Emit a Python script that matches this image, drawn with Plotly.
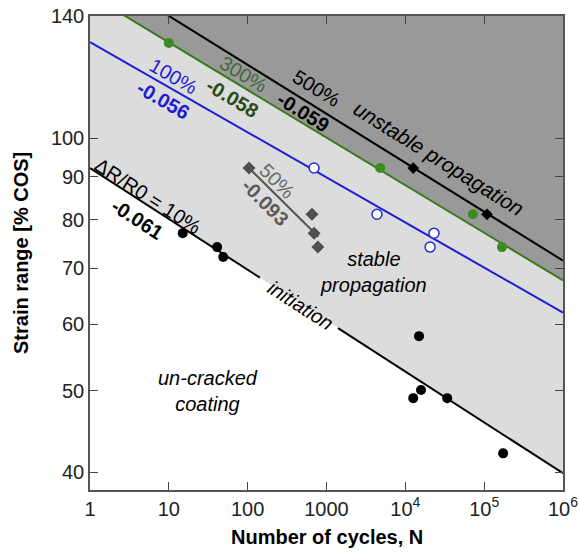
import numpy as np
import plotly.graph_objects as go

# ---------------- data ----------------
init_N = [15, 41, 49, 12600, 15800, 14900, 34000, 174000]
init_S = [77.1, 74.2, 72.2, 49.0, 50.1, 58.1, 49.0, 42.1]

p50_N = [104, 655, 695, 777]
p50_S = [92.2, 81.2, 77.1, 74.2]

p100_N = [695, 4370, 23100, 20600]
p100_S = [92.2, 81.2, 77.1, 74.2]

p300_N = [10, 4800, 72000, 168000]
p300_S = [130, 92.2, 81.2, 74.2]

p500_N = [12600, 108700]
p500_S = [92.2, 81.2]

# power-law fits S = A * N^b
fit_labels = ["10%", "50%", "100%", "300%", "500%"]
fit_A = [92.2, 142.0, 130.3, 148.4, 160.2]
fit_b = [-0.0607, -0.093, -0.0538, -0.0568, -0.0584]
fit_slope_text = ["-0.061", "-0.093", "-0.056", "-0.058", "-0.059"]

x_ticks = [1, 10, 100, 1000, 1e4, 1e5, 1e6]
x_ticktext = ["1", "10", "100", "1000", "10<sup>4</sup>", "10<sup>5</sup>", "10<sup>6</sup>"]
y_ticks = [40, 50, 60, 70, 80, 90, 100, 140]
y_ticktext = ["40", "50", "60", "70", "80", "90", "100", "140"]

FONT = "Liberation Sans, Arial, sans-serif"


def fit(i, N):
    N = np.asarray(N, dtype=float)
    return fit_A[i] * N ** fit_b[i]


fig = go.Figure()

TOP = 300
# light gray region above initiation line
fig.add_trace(go.Scatter(x=[1, 1e6, 1e6, 1], y=[fit(0, 1), fit(0, 1e6), TOP, TOP],
                         fill="toself", fillcolor="#dcdcdc", line=dict(width=0),
                         mode="lines", hoverinfo="skip", showlegend=False))
# dark gray region above 300% line
fig.add_trace(go.Scatter(x=[1, 1e6, 1e6, 1], y=[fit(3, 1), fit(3, 1e6), TOP, TOP],
                         fill="toself", fillcolor="#999999", line=dict(width=0),
                         mode="lines", hoverinfo="skip", showlegend=False))

# initiation line (with gap for the label)
for seg in ([1, 143], [1400, 1e6]):
    fig.add_trace(go.Scatter(x=seg, y=fit(0, seg), mode="lines",
                             line=dict(color="black", width=2), showlegend=False))
# 50% line
seg = [104, 790]
fig.add_trace(go.Scatter(x=seg, y=fit(1, seg), mode="lines",
                         line=dict(color="#555555", width=2), showlegend=False))
# 100% line
seg = [1, 1e6]
fig.add_trace(go.Scatter(x=seg, y=fit(2, seg), mode="lines",
                         line=dict(color="#1c1cd6", width=2), showlegend=False))
# 300% line
fig.add_trace(go.Scatter(x=seg, y=fit(3, seg), mode="lines",
                         line=dict(color="#3a7a1e", width=2), showlegend=False))
# 500% line
fig.add_trace(go.Scatter(x=seg, y=fit(4, seg), mode="lines",
                         line=dict(color="black", width=2), showlegend=False))

# markers
fig.add_trace(go.Scatter(x=init_N, y=init_S, mode="markers",
                         marker=dict(symbol="circle", size=10, color="black"), showlegend=False))
fig.add_trace(go.Scatter(x=p50_N, y=p50_S, mode="markers",
                         marker=dict(symbol="diamond", size=10, color="#505050"), showlegend=False))
fig.add_trace(go.Scatter(x=p100_N, y=p100_S, mode="markers",
                         marker=dict(symbol="circle", size=10, color="white",
                                     line=dict(color="#2a2ad8", width=1.5)), showlegend=False))
fig.add_trace(go.Scatter(x=p300_N, y=p300_S, mode="markers",
                         marker=dict(symbol="circle", size=10, color="#3c8a22"), showlegend=False))
fig.add_trace(go.Scatter(x=p500_N, y=p500_S, mode="markers",
                         marker=dict(symbol="diamond", size=9, color="black"), showlegend=False))

# ------------- annotations -------------
# plot-area edges in page pixels
L, R, T, B = 90, 563, 16, 490


def P(px, py):
    return (px - L) / (R - L), (B - py) / (B - T)


annos = []


def txt(text, px, py, angle=0, color="black", size=20, bold=False, italic=False):
    x, y = P(px, py)
    t = text
    if bold:
        t = "<b>" + t + "</b>"
    if italic:
        t = "<i>" + t + "</i>"
    annos.append(dict(text=t, x=x, y=y, xref="paper", yref="paper", showarrow=False,
                      xanchor="center", yanchor="middle", textangle=angle,
                      font=dict(family=FONT, size=size, color=color)))


txt("ΔR/R0 = " + fit_labels[0], 148, 196, 32.8)
txt(fit_slope_text[0], 137, 219, 32.8, bold=True)
txt("initiation", 300, 305, 32.8, italic=True)
txt(fit_labels[1], 277, 181, 45, color="#6a6a6a")
txt(fit_slope_text[1], 265, 202, 45, color="#5a5a5a", bold=True)
txt(fit_labels[2], 173, 76, 30, color="#1c1cd6")
txt(fit_slope_text[2], 163, 100, 30, color="#1c1cd6", bold=True)
txt(fit_labels[3], 243, 74, 31, color="#46683a")
txt(fit_slope_text[3], 232, 98, 31, color="#2a4a18", bold=True)
txt(fit_labels[4], 316, 88, 32)
txt(fit_slope_text[4], 303, 112, 32, bold=True)
txt("unstable propagation", 439, 158, 32, italic=True, size=21)
txt("stable<br>propagation", 373, 272, 0, italic=True)
txt("un-cracked<br>coating", 208, 391, 0, italic=True)

# axis titles
ax_x, ax_y = P(327, 537)
annos.append(dict(text="<b>Number of cycles, N</b>", x=ax_x, y=ax_y,
                  xref="paper", yref="paper", showarrow=False, xanchor="center", yanchor="middle",
                  font=dict(family=FONT, size=20, color="black")))
ay_x, ay_y = P(21, 253)
annos.append(dict(text="<b>Strain range [% COS]</b>", x=ay_x, y=ay_y,
                  xref="paper", yref="paper", showarrow=False, xanchor="center", yanchor="middle",
                  textangle=-90, font=dict(family=FONT, size=20, color="black")))

W, H = 579, 555
fig.update_layout(
    width=W, height=H,
    margin=dict(l=L, r=W - R, t=T, b=H - B),
    paper_bgcolor="white", plot_bgcolor="white",
    annotations=annos,
    xaxis=dict(type="log", range=[0, 6], tickvals=x_ticks, ticktext=x_ticktext,
               ticks="inside", ticklen=8, tickwidth=1.2, tickcolor="#444",
               showline=True, linecolor="#555", linewidth=1.5, mirror="ticks",
               showgrid=False, zeroline=False, automargin=False, ticklabeloverflow="allow",
               tickfont=dict(family=FONT, size=20, color="#222")),
    yaxis=dict(type="log", range=[np.log10(38.07), np.log10(140)], tickvals=y_ticks, ticktext=y_ticktext,
               ticks="inside", ticklen=8, tickwidth=1.2, tickcolor="#444",
               showline=True, linecolor="#555", linewidth=1.5, mirror="ticks",
               showgrid=False, zeroline=False, automargin=False, ticklabeloverflow="allow",
               tickfont=dict(family=FONT, size=20, color="#222")),
)

fig.write_html("out.html", config={"displayModeBar": False},
               post_script="document.body.style.margin='0px';document.body.style.overflow='hidden';")
